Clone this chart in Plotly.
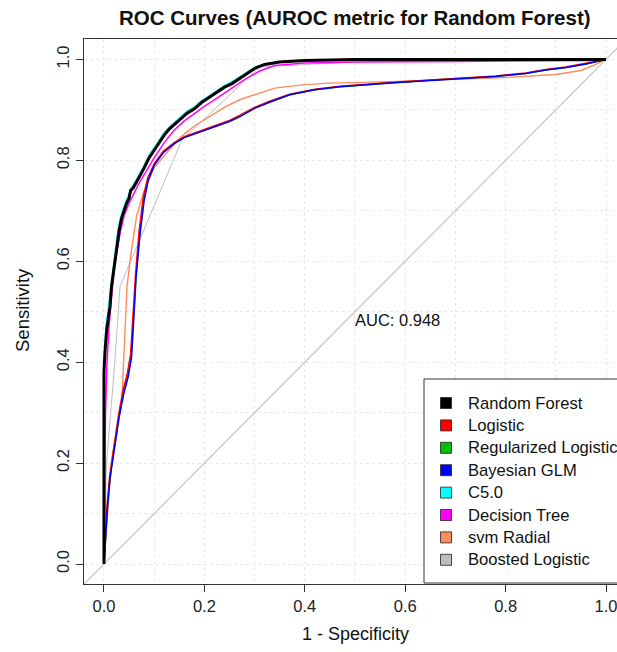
import plotly.graph_objects as go

# ---- model names, colours and ROC points (1 - specificity, sensitivity) ----
models = ["Random Forest", "Logistic", "Regularized Logistic", "Bayesian GLM",
          "C5.0", "Decision Tree", "svm Radial", "Boosted Logistic"]
colors = ["#000000", "#FF0000", "#00C000", "#0000FF",
          "#00FFFF", "#FF00FF", "#FF8C5A", "#BEBEBE"]

rf_fpr = [0, 0, 0.002, 0.005, 0.009, 0.012, 0.015, 0.018, 0.022, 0.026, 0.03, 0.035,
          0.04, 0.045, 0.05, 0.053, 0.058, 0.064, 0.072, 0.08, 0.09, 0.1, 0.11, 0.12,
          0.13, 0.145, 0.155, 0.165, 0.18, 0.195, 0.21, 0.225, 0.24, 0.255, 0.27,
          0.285, 0.3, 0.32, 0.35, 0.4, 0.45, 0.5, 0.6, 0.8, 1.0]
rf_tpr = [0, 0.38, 0.42, 0.46, 0.49, 0.51, 0.55, 0.57, 0.6, 0.63, 0.66, 0.685,
          0.7, 0.715, 0.725, 0.74, 0.745, 0.755, 0.77, 0.785, 0.805, 0.82, 0.835, 0.85,
          0.862, 0.875, 0.885, 0.893, 0.902, 0.915, 0.925, 0.935, 0.945, 0.952, 0.962,
          0.972, 0.982, 0.99, 0.995, 0.998, 0.999, 1.0, 1.0, 1.0, 1.0]

c50_fpr = [0, 0, 0.002, 0.004, 0.008, 0.011, 0.014, 0.017, 0.021, 0.025, 0.029, 0.034,
           0.039, 0.044, 0.049, 0.053, 0.058, 0.064, 0.072, 0.08, 0.09, 0.1, 0.11, 0.12,
           0.13, 0.145, 0.155, 0.165, 0.18, 0.195, 0.21, 0.225, 0.24, 0.255, 0.27,
           0.285, 0.3, 0.32, 0.35, 0.4, 0.5, 0.7, 1.0]
c50_tpr = [0, 0.39, 0.43, 0.47, 0.5, 0.525, 0.56, 0.585, 0.61, 0.64, 0.668, 0.69,
           0.705, 0.72, 0.73, 0.744, 0.75, 0.76, 0.775, 0.79, 0.81, 0.825, 0.84, 0.855,
           0.866, 0.879, 0.889, 0.897, 0.906, 0.918, 0.928, 0.938, 0.948, 0.956, 0.965,
           0.974, 0.984, 0.991, 0.995, 0.998, 0.999, 1.0, 1.0]

tree_fpr = [0, 0.003, 0.006, 0.01, 0.015, 0.02, 0.026, 0.033, 0.04, 0.05, 0.06, 0.07,
            0.085, 0.1, 0.12, 0.14, 0.16, 0.18, 0.2, 0.22, 0.25, 0.28, 0.31, 0.34,
            0.4, 0.5, 0.7, 0.9, 0.97, 1.0]
tree_tpr = [0, 0.3, 0.4, 0.47, 0.53, 0.58, 0.62, 0.66, 0.69, 0.715, 0.735, 0.755,
            0.78, 0.805, 0.835, 0.86, 0.878, 0.893, 0.907, 0.92, 0.94, 0.96, 0.977,
            0.988, 0.993, 0.995, 0.996, 0.997, 0.998, 1.0]

bglm_fpr = [0, 0.003, 0.007, 0.012, 0.018, 0.022, 0.03, 0.04, 0.048, 0.055, 0.06,
            0.064, 0.072, 0.08, 0.088, 0.1, 0.118, 0.14, 0.16, 0.19, 0.22, 0.25, 0.27,
            0.3, 0.33, 0.37, 0.42, 0.47, 0.57, 0.67, 0.78, 0.84, 0.88, 0.92, 0.96,
            0.99, 1.0]
bglm_tpr = [0, 0.06, 0.113, 0.17, 0.21, 0.24, 0.29, 0.34, 0.37, 0.41, 0.5,
            0.57, 0.655, 0.72, 0.76, 0.79, 0.815, 0.833, 0.845, 0.856, 0.866, 0.877,
            0.886, 0.903, 0.915, 0.93, 0.94, 0.946, 0.953, 0.959, 0.966, 0.972, 0.979,
            0.984, 0.991, 0.998, 1.0]

logit_fpr = [0, 0.003, 0.006, 0.011, 0.017, 0.021, 0.029, 0.038, 0.046, 0.053, 0.058,
             0.063, 0.07, 0.078, 0.087, 0.1, 0.118, 0.14, 0.16, 0.19, 0.22, 0.25, 0.27,
             0.3, 0.33, 0.37, 0.42, 0.47, 0.57, 0.67, 0.78, 0.84, 0.88, 0.92, 0.96,
             0.99, 1.0]
logit_tpr = [0, 0.06, 0.115, 0.172, 0.213, 0.243, 0.295, 0.345, 0.375, 0.415, 0.505,
             0.575, 0.66, 0.725, 0.765, 0.793, 0.818, 0.835, 0.847, 0.858, 0.868, 0.879,
             0.889, 0.905, 0.917, 0.931, 0.941, 0.947, 0.954, 0.960, 0.967, 0.973, 0.980,
             0.985, 0.992, 0.998, 1.0]

reg_fpr = [0, 0.003, 0.007, 0.012, 0.018, 0.022, 0.03, 0.039, 0.047, 0.054, 0.059,
           0.064, 0.071, 0.079, 0.088, 0.1, 0.118, 0.14, 0.16, 0.19, 0.22, 0.25, 0.27,
           0.3, 0.33, 0.37, 0.42, 0.47, 0.57, 0.67, 0.78, 0.84, 0.88, 0.92, 0.96,
           0.99, 1.0]
reg_tpr = [0, 0.06, 0.114, 0.171, 0.211, 0.241, 0.292, 0.342, 0.372, 0.412, 0.502,
           0.572, 0.657, 0.722, 0.762, 0.791, 0.816, 0.834, 0.846, 0.857, 0.867, 0.878,
           0.887, 0.904, 0.916, 0.93, 0.94, 0.946, 0.953, 0.96, 0.966, 0.972, 0.979,
           0.984, 0.991, 0.998, 1.0]

svm_fpr = [0, 0.005, 0.01, 0.017, 0.028, 0.036, 0.039, 0.042, 0.046, 0.053, 0.065,
           0.08, 0.1, 0.125, 0.155, 0.18, 0.21, 0.24, 0.27, 0.3, 0.34, 0.4, 0.45, 0.57,
           0.67, 0.8, 0.9, 0.95, 0.98, 1.0]
svm_tpr = [0, 0.08, 0.14, 0.216, 0.28, 0.33, 0.4, 0.48, 0.55, 0.61, 0.69,
           0.74, 0.785, 0.815, 0.848, 0.868, 0.887, 0.905, 0.92, 0.93, 0.943, 0.95,
           0.953, 0.956, 0.959, 0.964, 0.97, 0.978, 0.99, 1.0]

boost_fpr = [0, 0.005, 0.02, 0.032, 0.155, 0.31, 0.5, 1.0]
boost_tpr = [0, 0.2, 0.38, 0.55, 0.84, 0.985, 0.995, 1.0]

curves = {
    "Random Forest": (rf_fpr, rf_tpr, 3.0),
    "Logistic": (logit_fpr, logit_tpr, 1.5),
    "Regularized Logistic": (reg_fpr, reg_tpr, 1.5),
    "Bayesian GLM": (bglm_fpr, bglm_tpr, 1.5),
    "C5.0": (c50_fpr, c50_tpr, 1.6),
    "Decision Tree": (tree_fpr, tree_tpr, 1.5),
    "svm Radial": (svm_fpr, svm_tpr, 1.4),
    "Boosted Logistic": (boost_fpr, boost_tpr, 1.0),
}
draw_order = ["Boosted Logistic", "svm Radial", "Regularized Logistic", "Logistic",
              "Bayesian GLM", "Decision Tree", "C5.0", "Random Forest"]

x_ticks = [0.0, 0.2, 0.4, 0.6, 0.8, 1.0]
y_ticks = [0.0, 0.2, 0.4, 0.6, 0.8, 1.0]
tick_text = ["0.0", "0.2", "0.4", "0.6", "0.8", "1.0"]

auc_label = "AUC: 0.948"
auc_pos = (0.585, 0.484)

# ---- geometry (pixels) ----
W, H = 617, 652
L, R, T, B = 84, 617, 39, 584          # plot area edges
FONT = "Liberation Sans, Arial, sans-serif"


def px_x(p):
    return (p - L) / (R - L)


def px_y(p):
    return (B - p) / (B - T)


fig = go.Figure()

# chance diagonal
fig.add_trace(go.Scatter(x=[-0.05, 1.05], y=[-0.05, 1.05], mode="lines",
                         line=dict(color="#C8C8C8", width=1.3),
                         showlegend=False, hoverinfo="skip"))

for name in draw_order:
    fx, ty, w = curves[name]
    fig.add_trace(go.Scatter(x=fx, y=ty, mode="lines", name=name,
                             line=dict(color=colors[models.index(name)], width=w),
                             showlegend=False))

grid = dict(showgrid=True, gridcolor="#E8E8E8", griddash="dot", gridwidth=1)
tickfont = dict(size=16.5, color="#222", family=FONT)
fig.update_xaxes(range=[-0.0398, 1.0219], tickvals=x_ticks, ticktext=tick_text,
                 ticks="outside", ticklen=7, tickcolor="#333", tickwidth=1,
                 showline=True, linecolor="#333", linewidth=1, mirror=True,
                 zeroline=False, tickfont=tickfont, ticklabeloverflow="allow",
                 minor=dict(dtick=0.1, tick0=0, ticks="", **grid), **grid)
fig.update_yaxes(range=[-0.0396, 1.0404], tickvals=y_ticks, ticktext=tick_text,
                 ticks="outside", ticklen=7, tickcolor="#333", tickwidth=1,
                 showline=True, linecolor="#333", linewidth=1, tickangle=-90,
                 zeroline=False, tickfont=tickfont, ticklabeloverflow="allow",
                 minor=dict(dtick=0.1, tick0=0, ticks="", **grid), **grid)

annotations = [
    dict(text="<b>ROC Curves (AUROC metric for Random Forest)</b>", xref="paper",
         yref="paper", x=px_x(355), y=px_y(17), showarrow=False,
         font=dict(size=20.5, color="#111", family=FONT), xanchor="center",
         yanchor="middle"),
    dict(text="1 - Specificity", xref="paper", yref="paper", x=px_x(355),
         y=px_y(634), showarrow=False, font=dict(size=18, color="#111", family=FONT),
         xanchor="center", yanchor="middle"),
    dict(text="Sensitivity", xref="paper", yref="paper", x=px_x(22), y=px_y(310),
         showarrow=False, textangle=-90, font=dict(size=18.5, color="#111", family=FONT),
         xanchor="center", yanchor="middle"),
    dict(text=auc_label, x=auc_pos[0], y=auc_pos[1], xref="x", yref="y",
         showarrow=False, font=dict(size=16.5, color="#111", family=FONT),
         xanchor="center", yanchor="middle"),
]

# legend box in the lower-right corner
shapes = [dict(type="rect", xref="paper", yref="paper", x0=px_x(424), x1=1.2,
               y0=px_y(583), y1=px_y(379), line=dict(color="#333", width=1),
               fillcolor="white", layer="above")]
row0, step = 403, 22.4
for i, name in enumerate(models):
    yc = px_y(row0 + i * step)
    shapes.append(dict(type="rect", xref="paper", yref="paper",
                       xsizemode="pixel", ysizemode="pixel",
                       xanchor=px_x(446), yanchor=yc, x0=-5.5, x1=5.5, y0=-5.5, y1=5.5,
                       fillcolor=colors[i], line=dict(color="#222", width=0.8),
                       layer="above"))
    annotations.append(dict(text=name, xref="paper", yref="paper", x=px_x(466),
                            y=yc, showarrow=False, xanchor="left", yanchor="middle",
                            font=dict(size=16.6, color="#111", family=FONT)))

fig.update_layout(width=W, height=H, margin=dict(l=L, r=W - R, t=T, b=H - B),
                  plot_bgcolor="white", paper_bgcolor="white",
                  annotations=annotations, shapes=shapes, showlegend=False,
                  font=dict(family=FONT))

fig.write_html("out.html", config=dict(displayModeBar=False))
